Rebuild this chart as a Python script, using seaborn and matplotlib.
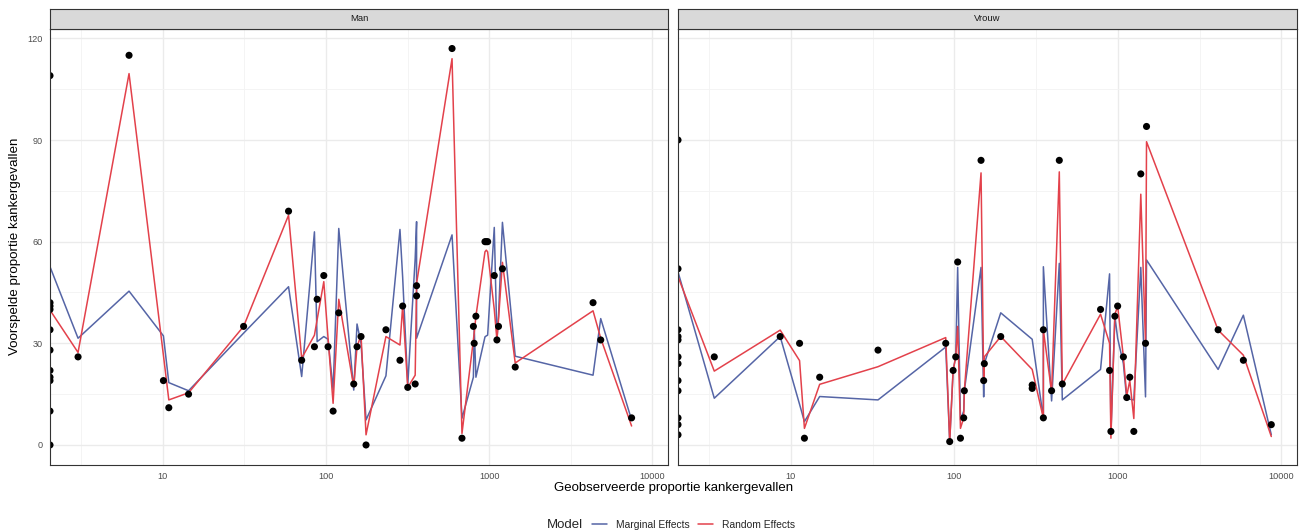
import numpy as np
import pandas as pd
import matplotlib
matplotlib.use("Agg")
import matplotlib.pyplot as plt
from matplotlib.lines import Line2D
from matplotlib.ticker import FixedLocator, NullFormatter
import seaborn as sns

# ---------------- data (observed proportion 0 -> drawn at panel edge, like -Inf in ggplot)
man_x = [0, 0, 0, 0, 0, 0, 0, 0, 0, 0, 0,
         3.03, 6.22, 10.1, 10.9, 14.4, 31.3, 59, 71, 85, 88.3, 97, 103, 110.6, 119.8,
         148, 155, 164, 176, 233, 284, 295, 317, 352, 359, 359, 592, 681, 800, 809, 829,
         942, 960, 978, 1074, 1115, 1140, 1205, 1443, 4325, 4820, 7450]
man_y = [109, 41, 40, 34, 28, 22, 20, 19, 10, 0, 42,
         26, 115, 19, 11, 15, 35, 69, 25, 29, 43, 50, 29, 10, 39,
         18, 29, 32, 0, 34, 25, 41, 17, 18, 47, 44, 117, 2, 35, 30, 38,
         60, 60, 60, 50, 31, 35, 52, 23, 42, 31, 8]
man_re = [105.7, 39, 38, 33, 27, 21, 19.5, 18.5, 9.8, 2.5, 39.8,
          27.3, 109.6, 26.5, 13.3, 15.4, 35, 67.8, 25.6, 32.4, 37, 48.2, 31.5, 12.3, 43,
          17.2, 29, 32.4, 3, 32, 29.5, 41, 17, 20.6, 47, 47.7, 114, 3.4, 31, 33, 38,
          57, 57.5, 57, 40, 31, 37, 53.9, 24.2, 39.6, 31.5, 5.6]
man_me = [55, 40, 38, 34, 30, 26, 22, 20, 14, 4, 52.6,
          31.5, 45.4, 32.2, 18.4, 16, 33, 46.7, 20.2, 62.9, 30.5, 32, 31.2, 16.2, 63.9,
          16.2, 35.7, 30, 7.4, 20.4, 63.6, 49.5, 17.7, 55, 65.9, 31.5, 62, 7.9, 20, 35, 20,
          31.9, 32.2, 32.4, 64.2, 31, 38, 65.7, 26.2, 20.6, 37.3, 7.4]

vrouw_x = [0, 0, 0, 0, 0, 0, 0, 0, 0, 0, 0, 0,
           3.4, 8.6, 11.3, 12.1, 15, 34.1, 88.5, 93.6, 98.2, 101.9, 104.7, 108.9, 114, 115,
           145.5, 151, 152.4, 192, 299, 299, 350, 350, 393, 438, 457, 783, 889, 906, 958,
           996, 1080, 1132, 1182, 1251, 1380, 1475, 1496, 4100, 5850, 8670]
vrouw_y = [90, 34, 32, 31, 26, 24, 19, 16, 8, 6, 3, 52,
           26, 32, 30, 2, 20, 28, 30, 1, 22, 26, 54, 2, 8, 16,
           84, 19, 24, 32, 17.7, 16.7, 8, 34, 16, 84, 18, 40, 22, 4, 38,
           41, 26, 14, 20, 4, 80, 30, 94, 34, 25, 6]
vrouw_re = [86, 32, 30, 29, 25, 23, 18, 15, 7, 5, 1.5, 49.7,
            21.8, 33.9, 24.9, 4.9, 17.9, 23.1, 31.7, 1, 22, 26, 35, 4.9, 8, 16,
            80.3, 19, 26, 32, 22.3, 22.3, 7.9, 33.9, 15.7, 80.6, 17.9, 38.6, 30, 2, 38.5,
            41, 26, 14.5, 19, 7.8, 74, 30, 89.5, 33.9, 26.5, 2.5]
vrouw_me = [51.6, 30, 29, 28, 24, 22, 17, 14, 7, 5, 2, 51.1,
            13.8, 32, 12, 6.9, 14.3, 13.3, 28.9, 1, 22, 26, 52.4, 7.4, 10, 16,
            52.4, 14.2, 24, 39, 31.2, 31.2, 7.9, 52.6, 13, 53.6, 13.3, 22.3, 50.5, 3.4, 38,
            31.5, 24, 13.5, 13.5, 13.3, 52.4, 14.2, 54.6, 22.3, 38.3, 3]

panels = ["Man", "Vrouw"]
x_ticks = [10, 100, 1000, 10000]
x_ticklabels = ["10", "100", "1000", "10000"]
y_ticks = [0, 30, 60, 90, 120]
models = ["Marginal Effects", "Random Effects"]

BLUE = "#5565a6"
RED = "#e3414b"

W, H = 1311, 532
fig = plt.figure(figsize=(W / 100, H / 100), dpi=100)
sns.set_style("white")
plt.rcParams["font.family"] = ["Liberation Sans", "DejaVu Sans"]

XLIM = (2.04, 12450)
YLIM = (-5.85, 122.85)


def rect(l, t, r, b):
    return [l / W, 1 - b / H, (r - l) / W, (b - t) / H]


data = {
    "Man": (man_x, man_y, man_me, man_re, 50, 668),
    "Vrouw": (vrouw_x, vrouw_y, vrouw_me, vrouw_re, 678, 1297),
}

for i, name in enumerate(panels):
    xs, ys, me, re, left, right = data[name]
    ax = fig.add_axes(rect(left, 28.7, right, 464.8))
    ax.set_xscale("log")
    df = pd.DataFrame({"x": xs, "y": ys, "me": me, "re": re})
    df = df.sort_values("x", kind="stable")
    df["xp"] = np.where(df["x"] > 0, df["x"], XLIM[0])
    sns.lineplot(data=df, x="xp", y="me", sort=False, estimator=None, color=BLUE,
                 lw=1.1, ax=ax, zorder=3)
    sns.lineplot(data=df, x="xp", y="re", sort=False, estimator=None, color=RED,
                 lw=1.1, ax=ax, zorder=3)
    sns.scatterplot(data=df, x="xp", y="y", color="black", s=26, edgecolor="none",
                    ax=ax, zorder=5)
    ax.set_xlim(XLIM)
    ax.set_ylim(YLIM)
    ax.set_xlabel("")
    ax.set_ylabel("")
    ax.xaxis.set_major_locator(FixedLocator(x_ticks))
    ax.set_xticklabels(x_ticklabels)
    ax.xaxis.set_minor_locator(FixedLocator([10 ** 0.5, 10 ** 1.5, 10 ** 2.5, 10 ** 3.5]))
    ax.xaxis.set_minor_formatter(NullFormatter())
    ax.yaxis.set_major_locator(FixedLocator(y_ticks))
    ax.yaxis.set_minor_locator(FixedLocator([15, 45, 75, 105]))
    ax.grid(which="major", color="#ebebeb", lw=1.0)
    ax.grid(which="minor", color="#f3f3f3", lw=0.6)
    ax.set_axisbelow(True)
    ax.tick_params(which="minor", length=0)
    ax.tick_params(which="major", length=3, width=0.6, color="#333333",
                   labelsize=6.6, labelcolor="#4d4d4d", pad=2.5)
    if i == 1:
        ax.tick_params(axis="y", which="major", left=False, labelleft=False)
    for s in ax.spines.values():
        s.set_color("#333333")
        s.set_linewidth(0.8)
        s.set_zorder(6)

    sax = fig.add_axes(rect(left, 9, right, 28.7))
    sax.set_facecolor("#d9d9d9")
    sax.set_xticks([])
    sax.set_yticks([])
    for s in sax.spines.values():
        s.set_color("#333333")
        s.set_linewidth(0.8)
    sax.text(0.5, 0.5, name, ha="center", va="center", fontsize=6.8, color="#1a1a1a",
             transform=sax.transAxes)

fig.text(15 / W, 1 - 246 / H, "Voorspelde proportie kankergevallen", rotation=90,
         ha="center", va="center", fontsize=9.6, color="#000000")
fig.text(674 / W, 1 - 488 / H, "Geobserveerde proportie kankergevallen",
         ha="center", va="center", fontsize=9.5, color="#000000")

fig.text(547 / W, 1 - 525 / H, "Model", ha="left", va="center", fontsize=9.5)
handles = [Line2D([0], [0], color=BLUE, lw=1.1), Line2D([0], [0], color=RED, lw=1.1)]
fig.legend(handles, models, loc="center left", bbox_to_anchor=(592 / W, 1 - 525 / H),
           ncol=2, frameon=False, fontsize=7.4, handlelength=1.45, handletextpad=0.9,
           columnspacing=0.75, borderaxespad=0, borderpad=0)

fig.savefig("out.png", dpi=100)
